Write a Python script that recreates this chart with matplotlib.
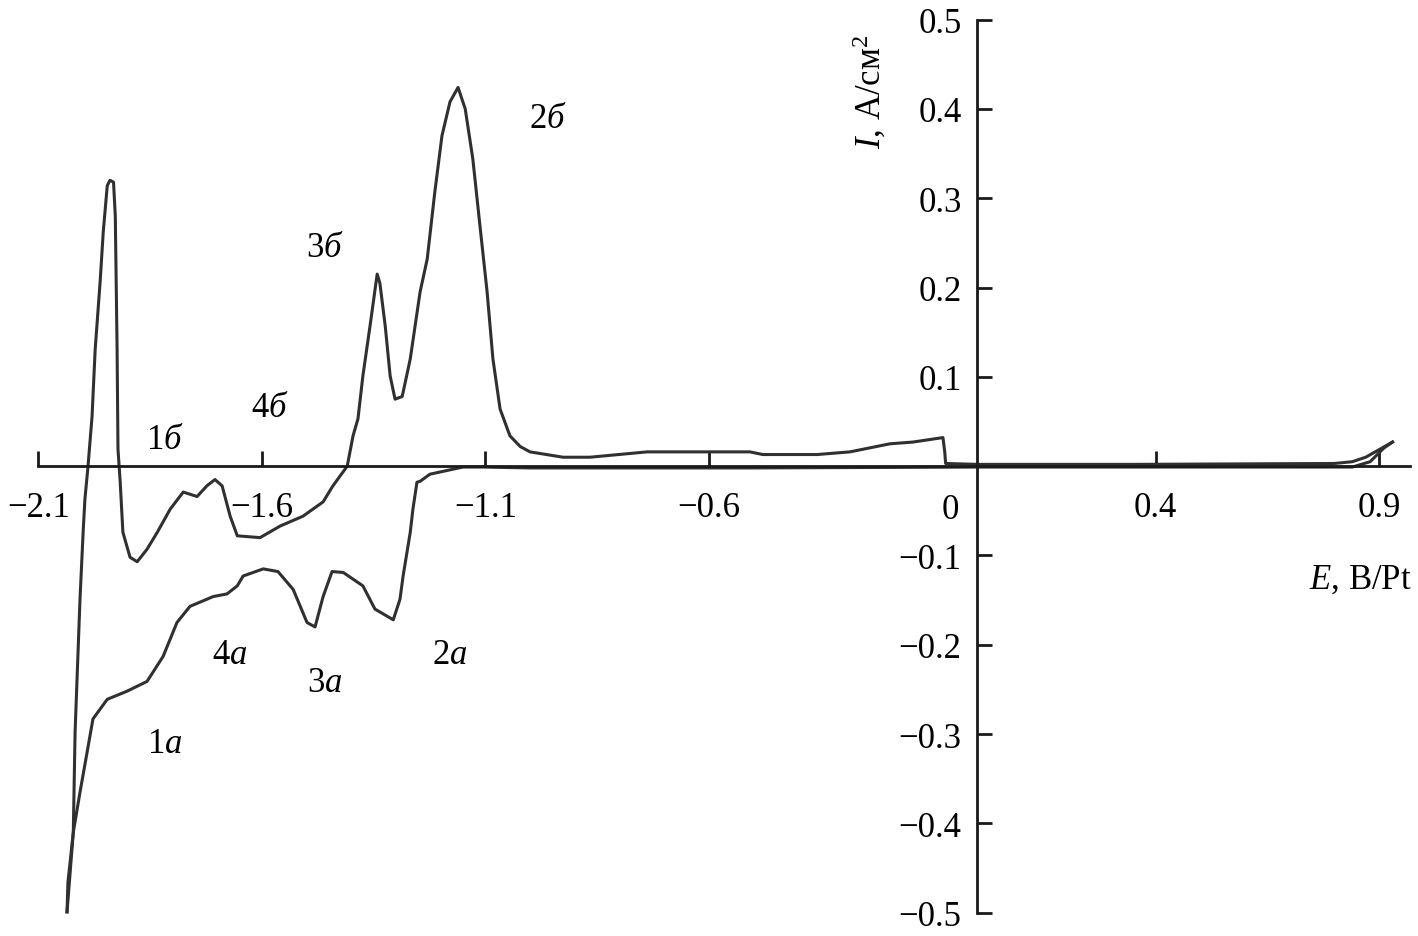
import matplotlib
matplotlib.use("Agg")
import matplotlib.pyplot as plt

plt.rcParams['font.family'] = ['Liberation Serif', 'DejaVu Serif']
plt.rcParams['mathtext.fontset'] = 'custom'
plt.rcParams['mathtext.rm'] = 'Liberation Serif'
plt.rcParams['mathtext.it'] = 'Liberation Serif:italic'

# Anodic (forward) branch: E (V vs Pt), I (A/cm2)
E_fwd = [-2.036, -2.022, -2.018, -2.007, -2.000, -1.996, -1.989, -1.980, -1.973, -1.962,
         -1.955, -1.946, -1.940, -1.932, -1.928, -1.924, -1.922, -1.917, -1.911, -1.895,
         -1.879, -1.857, -1.834, -1.805, -1.776, -1.745, -1.723, -1.705, -1.689, -1.671,
         -1.655, -1.604, -1.559, -1.508, -1.463, -1.441, -1.409, -1.396, -1.385, -1.374,
         -1.358, -1.342, -1.336, -1.324, -1.313, -1.302, -1.286, -1.268, -1.246, -1.230,
         -1.213, -1.197, -1.179, -1.161, -1.145, -1.128, -1.112, -1.096, -1.083, -1.067,
         -1.045, -1.022, -1.000, -0.926, -0.866, -0.738, -0.508, -0.479, -0.358, -0.284,
         -0.195, -0.143, -0.076, -0.072, -0.070, 0.000, 0.350, 0.800, 0.840, 0.870, 0.930]
I_fwd = [-0.499, -0.410, -0.298, -0.149, -0.074, -0.037, 0.000, 0.056, 0.131, 0.206,
         0.262, 0.314, 0.320, 0.318, 0.280, 0.131, 0.019, -0.018, -0.074, -0.102,
         -0.107, -0.093, -0.074, -0.048, -0.029, -0.034, -0.022, -0.015, -0.022, -0.056,
         -0.078, -0.080, -0.067, -0.056, -0.040, -0.022, 0.000, 0.034, 0.053, 0.101,
         0.157, 0.215, 0.205, 0.157, 0.101, 0.075, 0.078, 0.120, 0.195, 0.232,
         0.307, 0.370, 0.408, 0.424, 0.400, 0.344, 0.269, 0.195, 0.120, 0.064,
         0.034, 0.022, 0.016, 0.010, 0.010, 0.016, 0.016, 0.013, 0.013, 0.016,
         0.025, 0.027, 0.032, 0.016, 0.003, 0.002, 0.002, 0.003, 0.005, 0.010, 0.027]

# Cathodic (reverse) branch
E_rev = [0.930, 0.910, 0.880, 0.840, 0.400, 0.000, -0.500, -1.000, -1.105, -1.150,
         -1.224, -1.246, -1.253, -1.262, -1.268, -1.284, -1.291, -1.306, -1.347, -1.374,
         -1.418, -1.443, -1.463, -1.481, -1.499, -1.530, -1.564, -1.597, -1.642, -1.655,
         -1.678, -1.709, -1.761, -1.790, -1.821, -1.857, -1.902, -1.946, -1.978, -1.991,
         -2.007, -2.022, -2.034, -2.036]
I_rev = [0.027, 0.020, 0.005, -0.001, -0.001, -0.001, -0.002, -0.002, -0.001, -0.001,
         -0.009, -0.017, -0.018, -0.048, -0.074, -0.123, -0.149, -0.172, -0.160, -0.134,
         -0.119, -0.118, -0.146, -0.180, -0.175, -0.138, -0.118, -0.115, -0.123, -0.134,
         -0.143, -0.146, -0.157, -0.175, -0.213, -0.241, -0.252, -0.261, -0.283, -0.320,
         -0.365, -0.410, -0.466, -0.499]

x_ticks = [-2.1, -1.6, -1.1, -0.6, 0.4, 0.9]
x_ticklabels = ['−2.1', '−1.6', '−1.1', '−0.6', '0.4', '0.9']
y_ticks = [-0.5, -0.4, -0.3, -0.2, -0.1, 0.1, 0.2, 0.3, 0.4, 0.5]
y_ticklabels = ['−0.5', '−0.4', '−0.3', '−0.2', '−0.1', '0.1', '0.2', '0.3', '0.4', '0.5']

peak_labels = [('1', 'б', -1.817, 0.030), ('4', 'б', -1.582, 0.066),
               ('3', 'б', -1.459, 0.245), ('2', 'б', -0.960, 0.389),
               ('4', 'a', -1.671, -0.211), ('3', 'a', -1.459, -0.242),
               ('2', 'a', -1.179, -0.211), ('1', 'a', -1.817, -0.311)]

fig = plt.figure(figsize=(14.18, 9.37), dpi=100)
ax = fig.add_axes([0, 0, 1, 1])
ax.set_xlim(-2.186, 0.987)
ax.set_ylim(-0.526, 0.523)

ax.plot(E_fwd, I_fwd, color='#303030', lw=2.2, solid_joinstyle='round')
ax.plot(E_rev, I_rev, color='#303030', lw=2.2, solid_joinstyle='round')

for s in ['top', 'right']:
    ax.spines[s].set_visible(False)
ax.spines['bottom'].set_position(('data', 0))
ax.spines['left'].set_position(('data', 0))
ax.spines['bottom'].set_bounds(-2.1, 0.969)
ax.spines['left'].set_bounds(-0.5, 0.5)
for s in ['bottom', 'left']:
    ax.spines[s].set_linewidth(2.0)
    ax.spines[s].set_color('#1a1a1a')

ax.set_xticks(x_ticks)
ax.set_xticklabels(x_ticklabels)
ax.set_yticks(y_ticks)
ax.set_yticklabels(y_ticklabels)
ax.tick_params(axis='x', direction='in', length=11, width=2.0, pad=18,
               labelsize=25, color='#1a1a1a')
ax.tick_params(axis='y', direction='in', length=11, width=2.0, pad=11,
               labelsize=25, color='#1a1a1a')

ax.annotate('0', xy=(0, 0), xytext=(-19.5, -31), textcoords='offset points',
            ha='center', va='center', fontsize=25)

ax.text(-0.239, 0.42, r'$\mathit{I}$, А/см$^{2}$', rotation=90, ha='center',
        va='center', fontsize=25)
ax.text(0.973, -0.127, r'$\mathit{E}$, В/Pt', ha='right', va='center', fontsize=25)

for num, let, x, y in peak_labels:
    ax.text(x, y, num + r'$\mathit{' + let + r'}$', ha='center', va='center', fontsize=25)

fig.savefig('out.png', dpi=100)
